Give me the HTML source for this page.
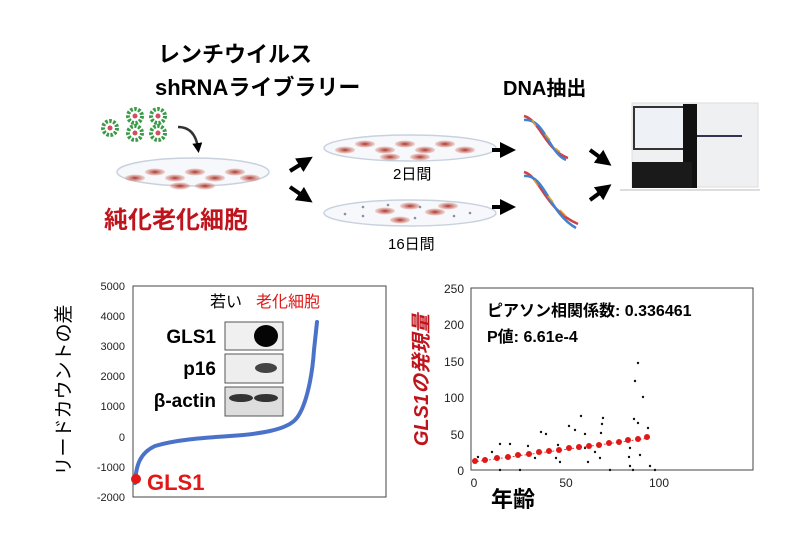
<!DOCTYPE html>
<html><head><meta charset="utf-8"><style>
html,body{margin:0;padding:0;background:#fff;}
svg{display:block;}
text{font-family:"Liberation Sans","Noto Sans CJK JP",sans-serif;}
</style></head><body>
<svg width="800" height="533" viewBox="0 0 800 533" xmlns="http://www.w3.org/2000/svg">
<defs>
<radialGradient id="cell"><stop offset="0" stop-color="#a8302a"/><stop offset="1" stop-color="#d88070" stop-opacity="0.3"/></radialGradient>
<marker id="ah" markerWidth="4" markerHeight="4" refX="2" refY="2" orient="auto"><path d="M0,0L4,2L0,4z" fill="#000"/></marker>
</defs>
<!-- top titles -->
<text x="158" y="62" font-size="22" font-weight="bold">レンチウイルス</text>
<text x="155" y="95" font-size="22" font-weight="bold">shRNAライブラリー</text>
<text x="503" y="95" font-size="20" font-weight="bold">DNA抽出</text>
<text x="104" y="228" font-size="24" font-weight="bold" fill="#c0141c">純化老化細胞</text>
<text x="393" y="179" font-size="15">2日間</text>
<text x="388" y="249" font-size="15">16日間</text>
<!-- viruses -->
<g fill="#fff" stroke="#3a9a48" stroke-width="4" stroke-dasharray="2.5 1.5">
<circle cx="110" cy="128" r="7"/><circle cx="135" cy="116" r="7"/><circle cx="158" cy="116" r="7"/><circle cx="135" cy="133" r="7"/><circle cx="158" cy="133" r="7"/></g>
<g fill="#d05060"><circle cx="110" cy="128" r="2.5"/><circle cx="135" cy="116" r="2.5"/><circle cx="158" cy="116" r="2.5"/><circle cx="135" cy="133" r="2.5"/><circle cx="158" cy="133" r="2.5"/></g>
<path d="M178,127 Q195,127 198,148" fill="none" stroke="#333" stroke-width="2.5" marker-end="url(#ah)"/>
<!-- dishes -->
<g fill="#f6f8fb" stroke="#c8d2de" stroke-width="1.5">
<ellipse cx="193" cy="172" rx="76" ry="14"/>
<ellipse cx="410" cy="148" rx="86" ry="13"/>
<ellipse cx="410" cy="213" rx="86" ry="13"/></g>
<g fill="url(#cell)">
<ellipse cx="135" cy="178" rx="10" ry="3.5"/><ellipse cx="155" cy="172" rx="10" ry="3.5"/><ellipse cx="175" cy="178" rx="10" ry="3.5"/><ellipse cx="195" cy="172" rx="10" ry="3.5"/><ellipse cx="215" cy="178" rx="10" ry="3.5"/><ellipse cx="235" cy="172" rx="10" ry="3.5"/><ellipse cx="250" cy="178" rx="10" ry="3.5"/><ellipse cx="180" cy="186" rx="10" ry="3.5"/><ellipse cx="205" cy="186" rx="10" ry="3.5"/>
<ellipse cx="345" cy="150" rx="10" ry="3.5"/><ellipse cx="365" cy="144" rx="10" ry="3.5"/><ellipse cx="385" cy="150" rx="10" ry="3.5"/><ellipse cx="405" cy="144" rx="10" ry="3.5"/><ellipse cx="425" cy="150" rx="10" ry="3.5"/><ellipse cx="445" cy="144" rx="10" ry="3.5"/><ellipse cx="465" cy="150" rx="10" ry="3.5"/><ellipse cx="390" cy="157" rx="10" ry="3.5"/><ellipse cx="420" cy="157" rx="10" ry="3.5"/>
<ellipse cx="385" cy="211" rx="10" ry="3.5"/><ellipse cx="410" cy="206" rx="10" ry="3.5"/><ellipse cx="435" cy="212" rx="10" ry="3.5"/><ellipse cx="448" cy="206" rx="10" ry="3.5"/><ellipse cx="400" cy="220" rx="10" ry="3.5"/></g>
<g fill="#8890a8"><circle cx="345" cy="214" r="1.3"/><circle cx="363" cy="207" r="1.3"/><circle cx="363" cy="216" r="1.3"/><circle cx="388" cy="205" r="1.3"/><circle cx="420" cy="207" r="1.3"/><circle cx="454" cy="216" r="1.3"/><circle cx="470" cy="213" r="1.3"/><circle cx="415" cy="218" r="1.3"/></g>
<!-- arrows -->
<g stroke="#000" stroke-width="4" marker-end="url(#ah)">
<line x1="290" y1="171" x2="306" y2="161"/><line x1="290" y1="187" x2="306" y2="198"/>
<line x1="492" y1="150" x2="508" y2="150"/><line x1="492" y1="207" x2="508" y2="207"/>
<line x1="590" y1="150" x2="605" y2="161"/><line x1="590" y1="200" x2="605" y2="189"/></g>
<!-- DNA -->
<g fill="none" stroke-width="2.5">
<path d="M524,116 C540,120 545,150 568,158" stroke="#d04040"/><path d="M524,120 C545,118 548,152 566,160" stroke="#4080d0"/>
<path d="M524,172 C540,176 545,210 578,224" stroke="#d04040"/><path d="M524,176 C545,174 548,212 576,228" stroke="#4080d0"/></g>
<g stroke="#e0a030" stroke-width="1.5"><line x1="532" y1="120" x2="536" y2="126"/><line x1="545" y1="134" x2="550" y2="140"/><line x1="555" y1="148" x2="560" y2="152"/><line x1="534" y1="180" x2="538" y2="186"/><line x1="548" y1="196" x2="553" y2="202"/><line x1="560" y1="210" x2="566" y2="216"/></g>
<!-- sequencer -->
<rect x="632" y="103" width="126" height="84" fill="#eef0f2" stroke="#ddd"/>
<rect x="633" y="106" width="60" height="44" fill="#333" /><rect x="635" y="108" width="56" height="40" fill="#eef2f6"/>
<rect x="683" y="104" width="14" height="84" fill="#111"/>
<rect x="632" y="162" width="60" height="26" fill="#1a1a1a"/>
<rect x="697" y="135" width="45" height="2" fill="#335"/>
<line x1="620" y1="190" x2="760" y2="190" stroke="#bbb"/>

<!-- left chart -->
<rect x="133" y="286" width="253" height="211" fill="none" stroke="#444" stroke-width="1"/>
<g font-size="11" text-anchor="end" fill="#222">
<text x="125" y="290">5000</text><text x="125" y="320">4000</text><text x="125" y="350">3000</text><text x="125" y="380">2000</text><text x="125" y="410">1000</text><text x="125" y="441">0</text><text x="125" y="471">-1000</text><text x="125" y="501">-2000</text></g>
<text transform="translate(70,390) rotate(-90)" font-size="19" text-anchor="middle">リードカウントの差</text>
<path d="M135,483 C136,465 140,453 155,446 C175,440 200,438 230,436 C260,434 285,430 295,420 C305,410 312,380 314,350 L317,322" fill="none" stroke="#4a72c8" stroke-width="4" stroke-linecap="round"/>
<circle cx="136" cy="479" r="5" fill="#e01818"/>
<text x="147" y="490" font-size="22" font-weight="bold" fill="#e01818">GLS1</text>
<text x="210" y="307" font-size="16">若い</text>
<text x="256" y="307" font-size="16" fill="#e01818">老化細胞</text>
<rect x="225" y="322" width="58" height="28" fill="#f0f0f0" stroke="#555"/>
<rect x="225" y="354" width="58" height="29" fill="#eee" stroke="#555"/>
<rect x="225" y="387" width="58" height="29" fill="#ddd" stroke="#555"/>
<ellipse cx="266" cy="336" rx="12" ry="11" fill="#050505"/>
<ellipse cx="266" cy="368" rx="11" ry="5" fill="#444"/>
<ellipse cx="241" cy="398" rx="12" ry="4" fill="#333"/><ellipse cx="266" cy="398" rx="12" ry="4" fill="#333"/>
<g font-size="19" font-weight="bold" text-anchor="end"><text x="216" y="343">GLS1</text><text x="216" y="375">p16</text><text x="216" y="407">β-actin</text></g>

<!-- right chart -->
<rect x="471" y="288" width="282" height="182" fill="none" stroke="#444" stroke-width="1"/>
<g font-size="12" text-anchor="end" fill="#222">
<text x="464" y="293">250</text><text x="464" y="329">200</text><text x="464" y="366">150</text><text x="464" y="402">100</text><text x="464" y="439">50</text><text x="464" y="475">0</text></g>
<g font-size="12" text-anchor="middle" fill="#222"><text x="474" y="487">0</text><text x="566" y="487">50</text><text x="659" y="487">100</text></g>
<text x="513" y="507" font-size="22" font-weight="bold" text-anchor="middle">年齢</text>
<text transform="translate(428,380) rotate(-90)" font-size="20" font-weight="bold" font-style="italic" fill="#c0141c" text-anchor="middle">GLS1の発現量</text>
<text x="487" y="316" font-size="16" font-weight="bold">ピアソン相関係数: 0.336461</text>
<text x="487" y="342" font-size="16" font-weight="bold">P値: 6.61e-4</text>
<g fill="#111">
<circle cx="638" cy="363" r="1.2"/><circle cx="635" cy="381" r="1.2"/><circle cx="643" cy="397" r="1.2"/><circle cx="581" cy="416" r="1.2"/><circle cx="603" cy="418" r="1.2"/><circle cx="602" cy="424" r="1.2"/><circle cx="634" cy="419" r="1.2"/><circle cx="638" cy="423" r="1.2"/><circle cx="648" cy="428" r="1.2"/><circle cx="541" cy="432" r="1.2"/><circle cx="546" cy="434" r="1.2"/><circle cx="569" cy="426" r="1.2"/><circle cx="575" cy="430" r="1.2"/><circle cx="585" cy="434" r="1.2"/><circle cx="601" cy="433" r="1.2"/><circle cx="510" cy="444" r="1.2"/><circle cx="528" cy="446" r="1.2"/><circle cx="500" cy="444" r="1.2"/><circle cx="558" cy="445" r="1.2"/><circle cx="585" cy="448" r="1.2"/><circle cx="595" cy="452" r="1.2"/><circle cx="630" cy="448" r="1.2"/><circle cx="640" cy="455" r="1.2"/><circle cx="629" cy="457" r="1.2"/><circle cx="600" cy="458" r="1.2"/><circle cx="588" cy="462" r="1.2"/><circle cx="556" cy="458" r="1.2"/><circle cx="560" cy="462" r="1.2"/><circle cx="520" cy="455" r="1.2"/><circle cx="492" cy="452" r="1.2"/><circle cx="478" cy="457" r="1.2"/><circle cx="535" cy="458" r="1.2"/><circle cx="650" cy="466" r="1.2"/><circle cx="655" cy="470" r="1.2"/><circle cx="630" cy="466" r="1.2"/><circle cx="520" cy="470" r="1.2"/><circle cx="500" cy="470" r="1.2"/><circle cx="610" cy="470" r="1.2"/><circle cx="633" cy="470" r="1.2"/></g>
<line x1="473" y1="462" x2="650" y2="438" stroke="#e04040" stroke-width="1" stroke-dasharray="2 2"/>
<g fill="#e01818">
<circle cx="475" cy="461" r="3"/><circle cx="485" cy="460" r="3"/><circle cx="497" cy="458" r="3"/><circle cx="508" cy="457" r="3"/><circle cx="518" cy="455" r="3"/><circle cx="529" cy="454" r="3"/><circle cx="539" cy="452" r="3"/><circle cx="549" cy="451" r="3"/><circle cx="559" cy="450" r="3"/><circle cx="569" cy="448" r="3"/><circle cx="579" cy="447" r="3"/><circle cx="589" cy="446" r="3"/><circle cx="599" cy="445" r="3"/><circle cx="609" cy="443" r="3"/><circle cx="619" cy="442" r="3"/><circle cx="628" cy="440" r="3"/><circle cx="638" cy="439" r="3"/><circle cx="647" cy="437" r="3"/></g>
</svg>
</body></html>
